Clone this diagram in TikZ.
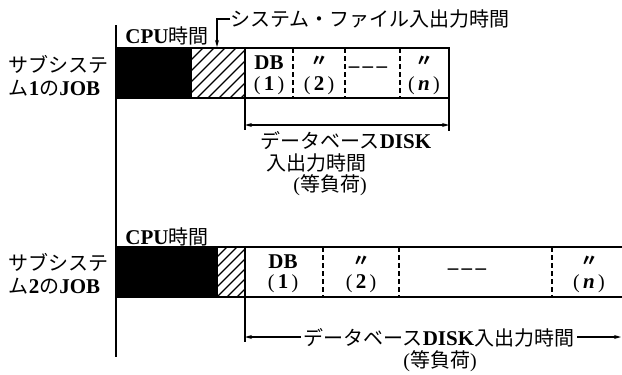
\documentclass[tikz,border=0pt]{standalone}
\usepackage{fontspec}
\setmainfont{Liberation Serif}
\newfontfamily\jp{Noto Sans CJK JP}
\newcommand\lat[1]{{\fontsize{21}{22}\selectfont\bfseries #1}}
\usetikzlibrary{arrows.meta}
\begin{document}
\begin{tikzpicture}[x=1pt,y=-1pt,
  font=\fontsize{20}{23}\selectfont,
  box/.style={draw, line width=1.6pt},
  divider/.style={line width=1.6pt, dash pattern=on 5pt off 3pt},
  hatchline/.style={line width=1.1pt},
  txt/.style={inner sep=0pt},
  ditto/.style={font=\fontsize{17}{18}\selectfont\bfseries},
  tip/.style={-{Stealth[length=7pt,width=4pt]}, line width=1.2pt},
  bitip/.style={{Stealth[length=7pt,width=4pt]}-{Stealth[length=7pt,width=4pt]}, line width=1.2pt}
]
\useasboundingbox (0,0) rectangle (622,375);

% time axis
\draw[line width=2pt] (116,25) -- (116,357);

% ---------------- sub-system 1 ----------------
\fill (116,48) rectangle (192,98);
\begin{scope}
  \clip (192,48) rectangle (245,98);
  \foreach \i in {0,...,10} \draw[hatchline] (142+\i*11,98) -- ++(60,-60);
\end{scope}
\draw[box] (116,48) rectangle (449,98);
\draw[box] (245,48) -- (245,130);
\draw[box] (449,98) -- (449,131);
\foreach \x in {293,345,400} \draw[divider] (\x,48) -- (\x,98);

\node[txt, anchor=east, align=left] (sub1) at (109,76)
  {{\jp サブシステ}\\[0pt]{\jp ム}\lat{1}{\jp の}\lat{JOB}};
\node[txt] (cpu1) at (167,36) {\lat{CPU}{\jp 時間}};

\node[txt] (sys) at (370,19) {\jp システム・ファイル入出力時間};
\coordinate (sysend) at (217,47);
\draw[tip] (sys.west) -| (sysend);

\node[txt] (c1a) at (269,63) {\lat{DB}};
\node[txt] (c1b) at (269,86) {(\,\lat{1}\,)};
\node[txt, ditto] (c2a) at (319,61) {\jp 〃};
\node[txt] (c2b) at (319,86) {(\,\lat{2}\,)};
\node[txt] (c3) at (368,70) {\lat{–\,–\,–}};
\node[txt, ditto] (c4a) at (424,61) {\jp 〃};
\node[txt] (c4b) at (424,86) {(\,\lat{\textit{n}}\,)};

\coordinate (b1l) at (245,125);
\coordinate (b1r) at (449,125);
\draw[bitip] (b1l) -- (b1r);
\node[txt] (d1a) at (346,141) {{\jp データベース}\lat{DISK}};
\node[txt] (d1b) at (316,163) {\jp 入出力時間};
\node[txt] (d1c) at (330,185) {({\jp 等負荷})};

% ---------------- sub-system 2 ----------------
\fill (116,247) rectangle (217,297);
\begin{scope}
  \clip (217,247) rectangle (245,297);
  \foreach \i in {0,...,8} \draw[hatchline] (167+\i*10,297) -- ++(60,-60);
\end{scope}
\draw[box] (622,247) -- (116,247) -- (116,297) -- (622,297);
\draw[box] (217,247) -- (217,297);
\draw[box] (245,247) -- (245,342);
\foreach \x in {323,399,552} \draw[divider] (\x,247) -- (\x,297);

\node[txt, anchor=east, align=left] (sub2) at (109,274)
  {{\jp サブシステ}\\[0pt]{\jp ム}\lat{2}{\jp の}\lat{JOB}};
\node[txt] (cpu2) at (167,237) {\lat{CPU}{\jp 時間}};

\node[txt] (e1a) at (283,262) {\lat{DB}};
\node[txt] (e1b) at (283,284) {(\,\lat{1}\,)};
\node[txt, ditto] (e2a) at (361,261) {\jp 〃};
\node[txt] (e2b) at (361,284) {(\,\lat{2}\,)};
\node[txt] (e3) at (467,272) {\lat{–\,–\,–}};
\node[txt, ditto] (e4a) at (589,261) {\jp 〃};
\node[txt] (e4b) at (589,284) {(\,\lat{\textit{n}}\,)};

\coordinate (b2l) at (245,337);
\coordinate (b2r) at (621,337);
\node[txt] (d2a) at (439,338) {{\jp データベース}\lat{DISK}{\jp 入出力時間}};
\node[txt] (d2b) at (440,361) {({\jp 等負荷})};
\draw[{Stealth[length=7pt,width=4pt]}-, line width=1.2pt] (b2l) -- ([xshift=-3pt]d2a.west |- b2l);
\draw[tip] ([xshift=3pt]d2a.east |- b2r) -- (b2r);
\end{tikzpicture}
\end{document}
